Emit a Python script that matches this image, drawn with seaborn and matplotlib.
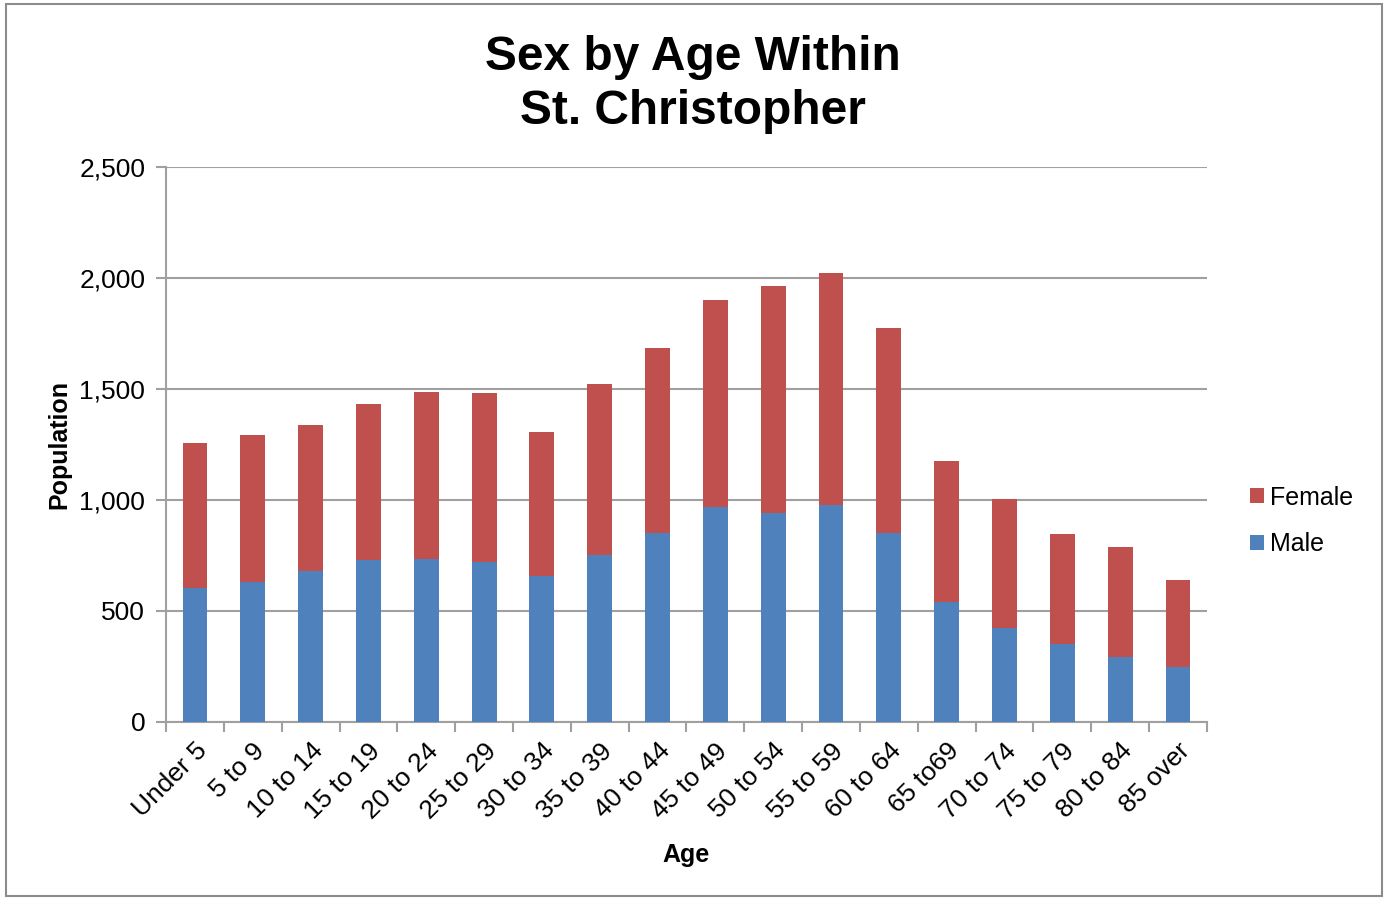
import numpy as np
import pandas as pd
import seaborn as sns
from matplotlib import pyplot as plt
from matplotlib.patches import Rectangle
from matplotlib.ticker import FuncFormatter, FixedLocator

ages = ['Under 5', '5 to 9', '10 to 14', '15 to 19', '20 to 24', '25 to 29',
        '30 to 34', '35 to 39', '40 to 44', '45 to 49', '50 to 54', '55 to 59',
        '60 to 64', '65 to69', '70 to 74', '75 to 79', '80 to 84', '85 over']
male = [604, 630, 680, 730, 734, 721, 658, 752, 851, 968, 941, 977, 851, 540,
        423, 351, 293, 248]
female = [653, 663, 658, 702, 752, 761, 648, 771, 834, 933, 1023, 1046, 924,
          636, 582, 496, 495, 392]

male_color = '#4F81BD'
female_color = '#C0504D'
grid_color = '#A0A0A0'

df = pd.DataFrame({'age': ages, 'Male': male, 'Female': female})
df['total'] = df['Male'] + df['Female']

sns.set_style('white')
plt.rcParams['font.family'] = ['Liberation Sans', 'DejaVu Sans']
plt.rcParams['text.color'] = 'black'
plt.rcParams['axes.labelcolor'] = 'black'
plt.rcParams['xtick.color'] = 'black'
plt.rcParams['ytick.color'] = 'black'

fig = plt.figure(figsize=(13.86, 8.98), dpi=100)
ax = fig.add_axes([0.1198, 0.196, 0.751, 0.618])

# stacked: total (female colour) first, then male on top of it
sns.barplot(data=df, x='age', y='total', color=female_color, width=0.43,
            saturation=1, ax=ax, label='Female', zorder=3, linewidth=0)
sns.barplot(data=df, x='age', y='Male', color=male_color, width=0.43,
            saturation=1, ax=ax, label='Male', zorder=3, linewidth=0)

ax.set_ylim(0, 2500)
ax.set_xlim(-0.5, len(ages) - 0.5)
ax.set_yticks(np.arange(0, 2501, 500))
ax.yaxis.set_major_formatter(FuncFormatter(lambda v, p: f'{int(v):,}'))
ax.yaxis.grid(True, color=grid_color, linewidth=1.5, zorder=0)
ax.set_axisbelow(True)

# tick marks between categories, labels at centres
ax.xaxis.set_major_locator(FixedLocator(np.arange(-0.5, len(ages))))
ax.set_xticklabels([])
ax.xaxis.set_minor_locator(FixedLocator(np.arange(len(ages))))
ax.set_xticklabels(ages, minor=True, rotation=45, ha='right',
                   rotation_mode='anchor', fontsize=19)
ax.tick_params(axis='x', which='major', length=7, width=1.5, color=grid_color,
               direction='out', bottom=True)
ax.tick_params(axis='x', which='minor', length=0, pad=12)
ax.tick_params(axis='y', length=7, width=1.5, color=grid_color,
               direction='out', left=True, labelsize=19, pad=8)

for side in ['top', 'right']:
    ax.spines[side].set_visible(False)
for side in ['left', 'bottom']:
    ax.spines[side].set_color(grid_color)
    ax.spines[side].set_linewidth(1.5)

ax.set_xlabel('Age', fontsize=18, fontweight='bold', labelpad=14)
ax.set_ylabel('Population', fontsize=18, fontweight='bold', labelpad=6)

fig.text(0.5, 0.906, 'Sex by Age Within\nSt. Christopher', ha='center',
         va='center', fontsize=34.5, fontweight='bold', linespacing=1.27)

if ax.get_legend():
    ax.get_legend().remove()
handles, labels = ax.get_legend_handles_labels()
fig.legend(handles, labels, loc='center left', bbox_to_anchor=(0.886, 0.42),
           frameon=False, fontsize=18, handlelength=0.55, handleheight=0.55,
           handletextpad=0.25, labelspacing=0.9)

fig.patches.append(Rectangle((0.004, 0.002), 0.993, 0.994, transform=fig.transFigure,
                             fill=False, edgecolor='#8C8C8C', linewidth=1.5))

fig.savefig('out.png', dpi=100)
